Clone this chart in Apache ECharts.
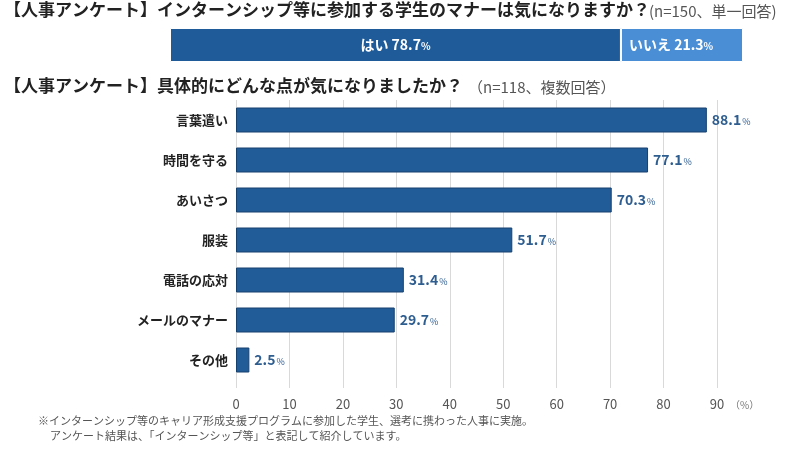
<!DOCTYPE html>
<html><head><meta charset="utf-8">
<script src="https://cdn.jsdelivr.net/npm/echarts@6/dist/echarts.min.js"></script>
<style>html,body{margin:0;padding:0;background:#fff}#c{width:800px;height:451px}</style>
</head><body><div id="c"></div>
<script>
const topLabels = ['はい', 'いいえ'];
const topValues = [78.7, 21.3];
const categories = ['言葉遣い', '時間を守る', 'あいさつ', '服装', '電話の応対', 'メールのマナー', 'その他'];
const values = [88.1, 77.1, 70.3, 51.7, 31.4, 29.7, 2.5];
const xTicks = [0, 10, 20, 30, 40, 50, 60, 70, 80, 90];

const FONT = '"Noto Sans CJK JP", "Noto Sans", sans-serif';
const chart = echarts.init(document.getElementById('c'));
const topColors = ['#1f5b98', '#4a8fd6'];

const option = {
  animation: false,
  textStyle: { fontFamily: FONT },
  grid: [
    { left: 170, right: 57, top: 28, height: 34 },
    { left: 236, right: 83, top: 100, height: 280 }
  ],
  xAxis: [
    { gridIndex: 0, type: 'value', min: 0, max: 100, show: false },
    { gridIndex: 1, type: 'value', min: 0, max: 90, interval: 10,
      axisLine: { show: false },
      axisTick: { show: true, length: 8, lineStyle: { color: '#d9d9d9' } },
      splitLine: { show: true, lineStyle: { color: '#d9d9d9' } },
      axisLabel: { color: '#555', fontSize: 13, margin: 18, fontFamily: FONT,
        formatter: v => xTicks.includes(v) ? String(v) : '' } }
  ],
  yAxis: [
    { gridIndex: 0, type: 'category', data: [''], show: false },
    { gridIndex: 1, type: 'category', data: categories, inverse: true,
      axisLine: { show: false }, axisTick: { show: false },
      axisLabel: { color: '#222', fontSize: 13, fontWeight: 'bold', margin: 8, fontFamily: FONT } }
  ],
  series: [
    ...topLabels.map((name, i) => ({
      type: 'bar', xAxisIndex: 0, yAxisIndex: 0, stack: 'top', barWidth: 34,
      data: [topValues[i]],
      itemStyle: { color: topColors[i], borderColor: '#ffffff', borderWidth: 1 },
      label: { show: true, position: i === 0 ? 'inside' : 'insideLeft', distance: 8,
        formatter: () => '{n|' + name + ' ' + topValues[i] + '}{u|%}',
        rich: {
          n: { color: '#fff', fontSize: 14, fontWeight: 'bold', fontFamily: FONT },
          u: { color: '#fff', fontSize: 10, fontWeight: 'bold', fontFamily: FONT, padding: [3, 0, 0, 0] }
        } }
    })),
    { type: 'bar', xAxisIndex: 1, yAxisIndex: 1, data: values, barWidth: 25,
      itemStyle: { color: '#225c98', borderColor: '#16416f', borderWidth: 1 },
      label: { show: true, position: 'right', distance: 5,
        formatter: p => '{v|' + p.value.toFixed(1) + '}{u|%}',
        rich: {
          v: { color: '#2e5d90', fontSize: 14, fontWeight: 'bold', fontFamily: FONT },
          u: { color: '#2e5d90', fontSize: 9, fontFamily: FONT, padding: [4, 0, 0, 1] }
        } }
    }
  ],
  graphic: [
    { type: 'text', left: 4, top: 1, style: { text: '【人事アンケート】インターンシップ等に参加する学生のマナーは気になりますか？', font: 'bold 17px ' + FONT, fill: '#222' } },
    { type: 'text', left: 649, top: 4, style: { text: '(n=150、単一回答)', font: '15px ' + FONT, fill: '#555' } },
    { type: 'text', left: 4, top: 77, style: { text: '【人事アンケート】具体的にどんな点が気になりましたか？', font: 'bold 17px ' + FONT, fill: '#222' } },
    { type: 'text', left: 468, top: 80, style: { text: '（n=118、複数回答）', font: '15px ' + FONT, fill: '#555' } },
    { type: 'text', left: 730, top: 400, style: { text: '（%）', font: '10px ' + FONT, fill: '#777' } },
    { type: 'text', left: 38, top: 415, style: { text: '※インターンシップ等のキャリア形成支援プログラムに参加した学生、選考に携わった人事に実施。', font: '11px ' + FONT, fill: '#555' } },
    { type: 'text', left: 50, top: 430, style: { text: 'アンケート結果は、「インターンシップ等」と表記して紹介しています。', font: '11px ' + FONT, fill: '#555' } }
  ]
};
chart.setOption(option);
</script></body></html>
